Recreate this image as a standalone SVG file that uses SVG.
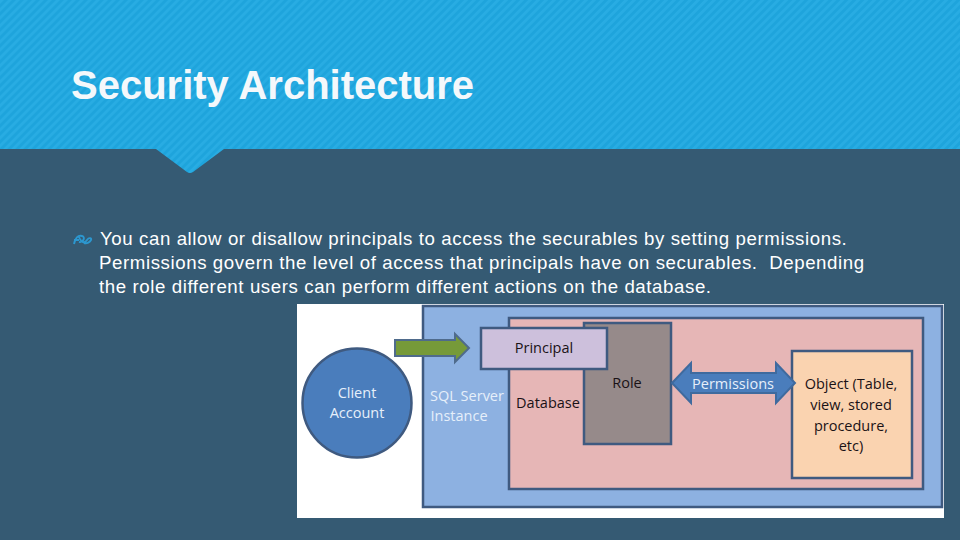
<svg xmlns="http://www.w3.org/2000/svg" width="960" height="540" viewBox="0 0 960 540">
<style>
text{font-family:"Liberation Sans",Arial,sans-serif}
.body{font-size:18.67px;fill:#fff;letter-spacing:.59px}
.d{font-family:"Open Sans","Noto Sans",sans-serif;font-size:14.5px;text-anchor:middle}
.k{fill:#1a1216}.w{fill:#e6effa}
.s{stroke:#3f5a80;stroke-width:2.5}
</style>
<defs>
<pattern id="st" width="5.66" height="5.66" patternUnits="userSpaceOnUse" patternTransform="rotate(45)">
<rect width="5.66" height="5.66" fill="#1ea4dc"/><rect width="2.8" height="5.66" fill="#28ace3"/>
</pattern>
</defs>
<rect width="960" height="540" fill="#355a73"/>
<path id="banner" d="M0 0H960V149H224L193 172Q190 174 187 172L156 149H0Z" fill="url(#st)"/>
<text x="71" y="99" font-size="40" font-weight="700" fill="#f4f8fb">Security Architecture</text>
<path id="bullet" d="M74 244c1-6 4-9 8-8s1 7-3 6M79 237c3 7 6 6 8 3s5-2 4 0-4 4-7 3M74 240h5" fill="none" stroke="#2c97cf" stroke-width="1.9"/>
<text class="body" x="100" y="245">You can allow or disallow principals to access the securables by setting permissions.</text>
<text class="body" x="99" y="269" xml:space="preserve">Permissions govern the level of access that principals have on securables.  Depending</text>
<text class="body" x="99" y="293">the role different users can perform different actions on the database.</text>
<rect id="picture" x="297" y="304" width="647" height="214" fill="#fff"/>
<g id="instance"><rect class="s" x="423" y="306" width="519" height="201" fill="#8db1e1"/>
<text class="d w" x="467" y="401">SQL Server</text><text class="d w" x="459" y="421">Instance</text></g>
<g id="database"><rect class="s" x="509" y="318" width="414" height="171" fill="#e6b6b6"/>
<text class="d k" x="548" y="408">Database</text></g>
<g id="role"><rect class="s" x="584" y="323" width="87" height="121" fill="#968a8a"/>
<text class="d k" x="627" y="388">Role</text></g>
<g id="principal"><rect class="s" x="481" y="328" width="126" height="41" fill="#cdc0dc"/>
<text class="d k" x="544" y="353">Principal</text></g>
<g id="client"><circle class="s" cx="357" cy="403" r="54.5" fill="#4a7dbc"/>
<text class="d w" x="357" y="398">Client</text><text class="d w" x="357" y="418">Account</text></g>
<g id="object"><rect class="s" x="792" y="351" width="120" height="127" fill="#fad3b0"/>
<text class="d k" x="851" y="389">Object (Table,</text><text class="d k" x="851" y="410">view, stored</text><text class="d k" x="851" y="431">procedure,</text><text class="d k" x="851" y="451">etc)</text></g>
<g id="connectors">
<path d="M395 340H455V334L469 348L455 362V356H395Z" fill="#769a39" stroke="#4f6b8c" stroke-width="2"/>
<path d="M672 383L691 363V373H776V363L795 383L776 403V393H691V403Z" fill="#4a7dbc" stroke="#3f6a9e" stroke-width="2"/>
</g>
<text class="d w" x="733" y="389">Permissions</text>
</svg>
